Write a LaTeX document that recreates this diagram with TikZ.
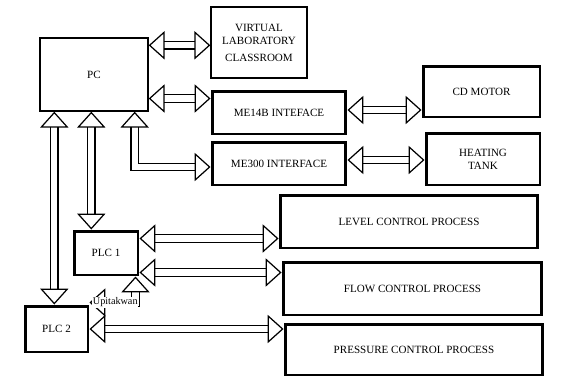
\documentclass[tikz,border=0pt]{standalone}
\usepackage{fontspec}
\setmainfont{Liberation Serif}
\usetikzlibrary{arrows.meta, positioning, calc}

\tikzset{
  box/.style={draw, line width=0.8pt, align=center, inner sep=1pt, font=\fontsize{6.3}{7.5}\selectfont},
  heavybox/.style={box, line width=1.7pt},
  link/.style={double=white, double distance=3.6pt, line width=0.7pt, {Triangle[open, length=9pt, width=16pt, line width=0.7pt]}-{Triangle[open, length=9pt, width=16pt, line width=0.7pt]}},
}

\begin{document}
\begin{tikzpicture}[x=0.02cm, y=-0.02cm]
  \useasboundingbox (0,0) rectangle (581,379);

  % boxes
  \node[box, minimum width=2.16cm, minimum height=1.46cm] (pc) at (94,74.5) {PC};
  \node[box, minimum width=1.92cm, minimum height=1.42cm] (vlab) at (259,42.5) {VIRTUAL\\LABORATORY\\[2pt]CLASSROOM};
  \node[heavybox, minimum width=2.68cm, minimum height=0.86cm] (me14b) at (279,112.5) {ME14B INTEFACE};
  \node[heavybox, minimum width=2.68cm, minimum height=0.86cm] (me300) at (279,163.5) {ME300 INTERFACE};
  \node[heavybox, minimum width=2.34cm, minimum height=1.02cm] (motor) at (481.5,91.5) {CD MOTOR};
  \node[heavybox, minimum width=2.28cm, minimum height=1.04cm] (tank) at (483,159) {HEATING\\TANK};
  \node[heavybox, minimum width=5.16cm, minimum height=1.06cm] (level) at (409,221.5) {LEVEL CONTROL PROCESS};
  \node[heavybox, minimum width=5.18cm, minimum height=1.06cm] (flow) at (412.5,288.5) {FLOW CONTROL PROCESS};
  \node[heavybox, minimum width=5.16cm, minimum height=1.02cm] (press) at (414,349.5) {PRESSURE CONTROL PROCESS};
  \node[heavybox, minimum width=1.28cm, minimum height=0.88cm] (plc1) at (106,253) {PLC 1};
  \node[heavybox, minimum width=1.26cm, minimum height=0.92cm] (plc2) at (56.5,329) {PLC 2};

  % links
  \draw[link] ([yshift=-0.16cm]pc.north east) -- ([yshift=-0.16cm]pc.north east -| vlab.west);
  \draw[link] ([yshift=-0.18cm]me14b.north west -| pc.east) -- ([yshift=-0.18cm]me14b.north west);
  \draw[link] ([xshift=-0.28cm]pc.south east) |- ([yshift=-0.07cm]me300.west);
  \draw[link] ([xshift=1.04cm]pc.south west) -- ([xshift=1.04cm]pc.south west |- plc1.north);
  \draw[link] ([xshift=0.3cm]pc.south west) -- ([xshift=0.3cm]pc.south west |- plc2.north);
  \draw[link] ([yshift=0.05cm]me14b.east) -- ([yshift=0.05cm]me14b.east -| motor.west);
  \draw[link] ([yshift=0.07cm]me300.east) -- ([yshift=0.07cm]me300.east -| tank.west);
  \draw[link] ([yshift=-0.18cm]plc1.north east) -- ([yshift=-0.18cm]plc1.north east -| level.west);
  \draw[link] ([yshift=0.08cm]plc1.south east) -- ([yshift=0.08cm]plc1.south east -| flow.west);
  \draw[link] (plc2.east) -- (plc2.east -| press.west);
  \draw[link] ([xshift=-0.08cm]plc1.south east) |- ([yshift=0.04cm]plc2.north east)
    node[pos=0.72, fill=white, inner sep=0.3pt, font=\fontsize{5.8}{6}\selectfont] (uplabel) {Upitakwan};
\end{tikzpicture}
\end{document}
